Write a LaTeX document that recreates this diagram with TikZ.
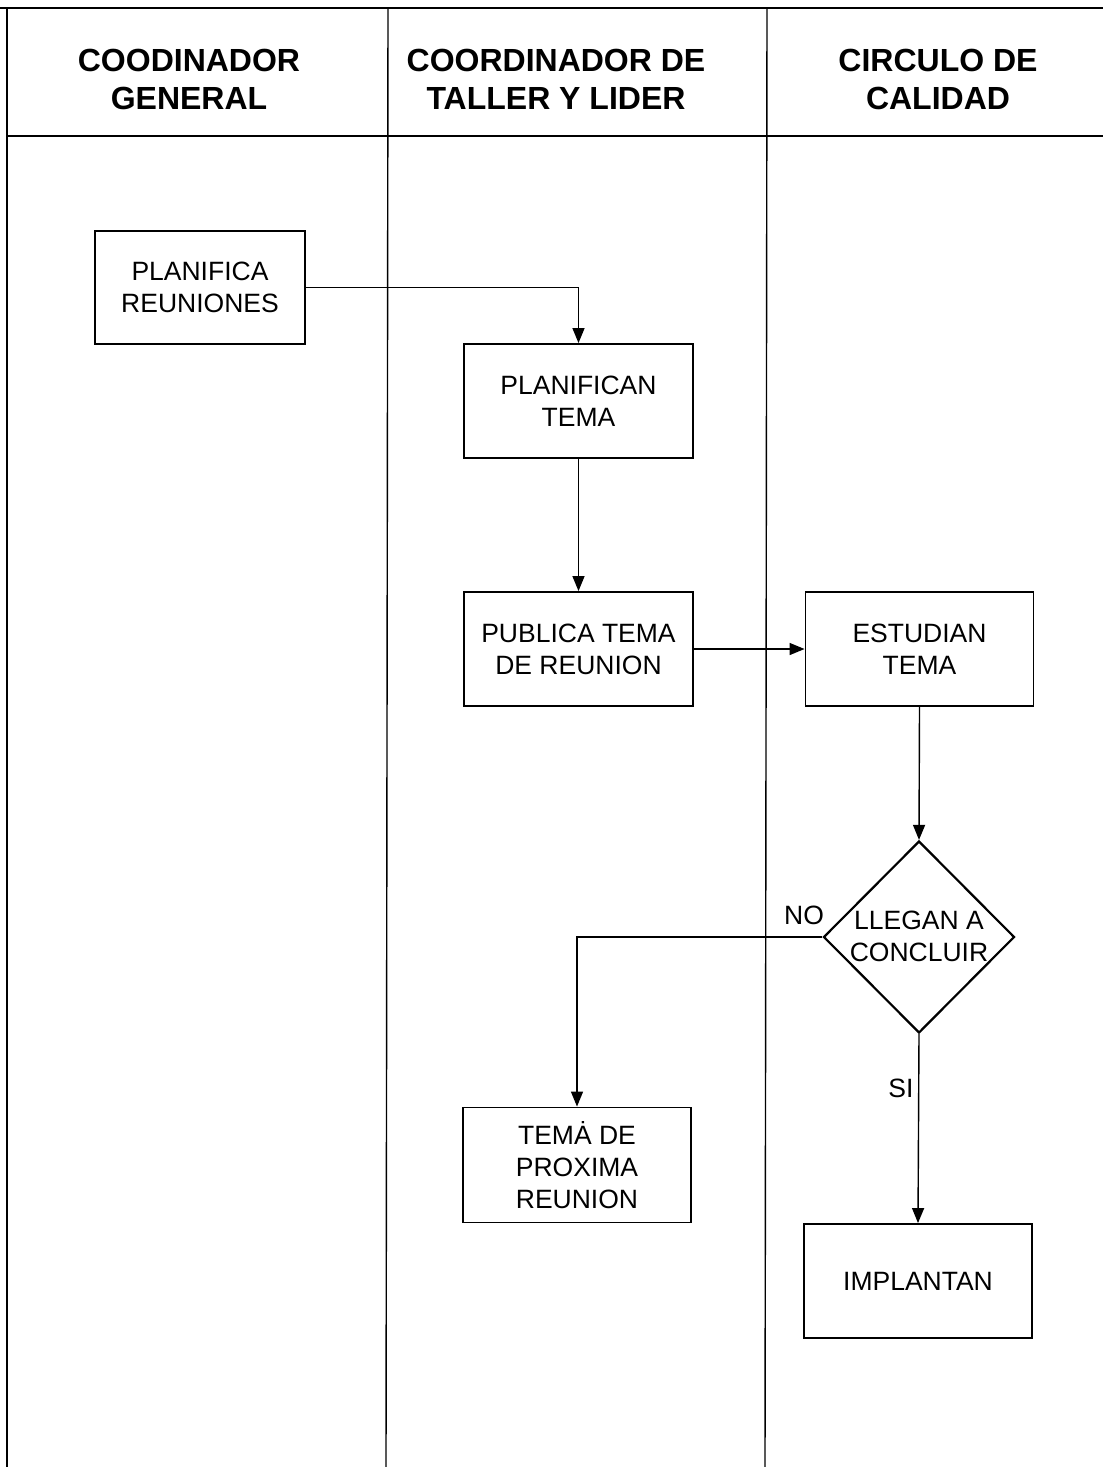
\documentclass[tikz,border=0pt]{standalone}
\usepackage{fontspec}
\setmainfont{Liberation Sans}
\usetikzlibrary{arrows.meta,shapes.geometric}
\begin{document}
\begin{tikzpicture}[x=1pt,y=-1pt,
  lane/.style={line width=1.4pt},
  head/.style={font=\fontsize{32}{38}\selectfont\bfseries, align=center},
  stepbox/.style={draw, line width=1.9pt, rectangle, minimum width=228pt, minimum height=114pt,
                  inner sep=0pt, align=center, font=\fontsize{26.5}{32}\selectfont},
  decision/.style={draw, line width=2.2pt, diamond, minimum width=191pt, minimum height=192pt, inner sep=0pt},
  body/.style={font=\fontsize{26.5}{32}\selectfont, align=center, inner sep=0pt},
  flow/.style={line width=1.4pt, -{Triangle[length=15pt,width=12pt]}}
]
\useasboundingbox (0,0) rectangle (1103,1467);
\fill[white] (0,0) rectangle (1103,1467);

% swimlane frame
\draw[lane] (0,8) -- (1103,8);
\draw[lane] (7,136) -- (1103,136);
\draw[lane] (7,8) -- (7,1467);
\draw[lane] (388,8) -- (386,1467);
\draw[lane] (767,8) -- (765,1467);

% lane headings
\node[head] (h1) at (189,79) {COODINADOR\\GENERAL};
\node[head] (h2) at (556,79) {COORDINADOR DE\\TALLER Y LIDER};
\node[head] (h3) at (938,79) {CIRCULO DE\\CALIDAD};

% process steps
\node[stepbox, minimum width=210pt, minimum height=113pt] (pr) at (200,287.5) {PLANIFICA\\REUNIONES};
\node[stepbox, minimum width=229pt] (pt) at (578.5,401) {PLANIFICAN\\TEMA};
\node[stepbox, minimum width=229pt] (pub) at (578.5,649) {PUBLICA TEMA\\DE REUNION};
\node[stepbox] (est) at (919.5,649) {ESTUDIAN\\TEMA};
\node[decision] (dia) at (919,937) {};
\node[body] (diat) at (919,936) {LLEGAN A\\CONCLUIR};
\node[stepbox, minimum height=115pt] (tem) at (577,1165) {TEMȦ DE\\PROXIMA\\REUNION};
\node[stepbox] (imp) at (918,1281) {IMPLANTAN};

% connectors
\draw[flow] (pr.east) -| (pt.north);
\draw[flow] (pt.south) -- (pub.north);
\draw[flow] (pub.east) -- (est.west);
\draw[flow] (est.south) -- (dia.north);
\draw[flow] (dia.west) -| (tem.north);
\draw[flow] (dia.south) -- (imp.north);

% branch labels
\node[body] (no) at (804,915) {NO};
\node[body] (si) at (901,1088) {SI};
\end{tikzpicture}
\end{document}
